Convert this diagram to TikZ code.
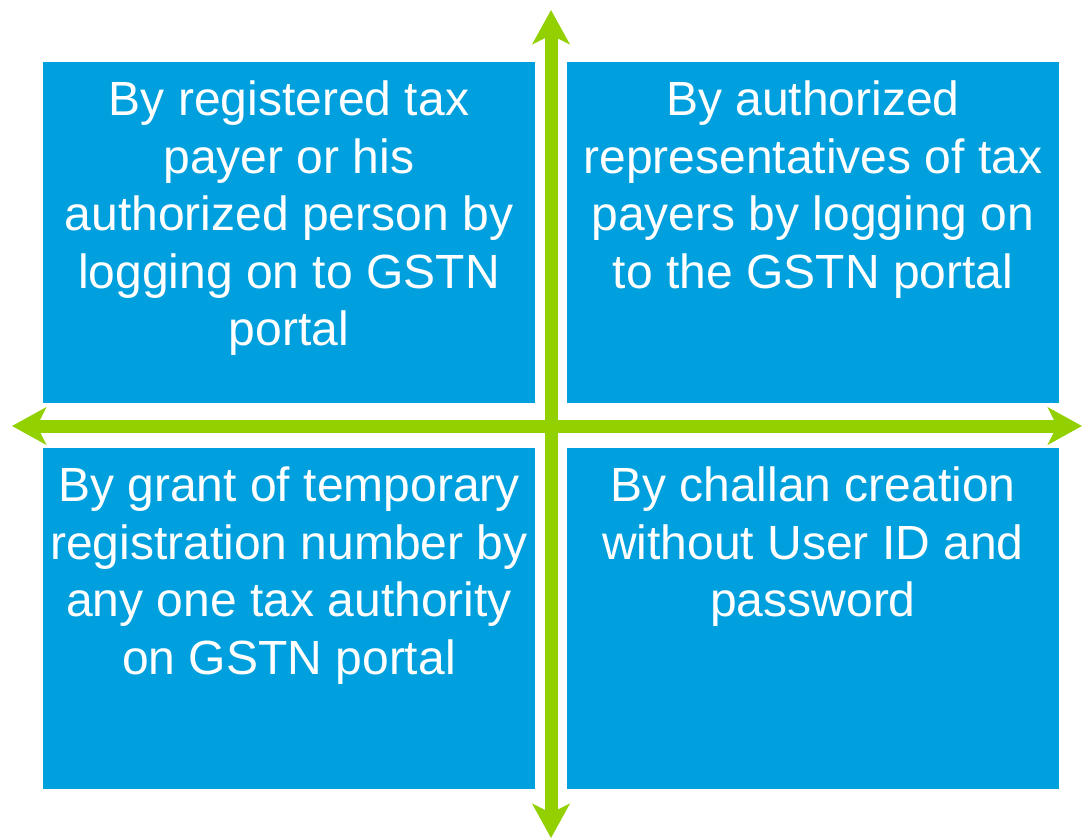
\documentclass[tikz,border=0pt]{standalone}
\usepackage{fontspec}
\setmainfont{Liberation Sans}
\usepackage{tikz}
\usetikzlibrary{arrows.meta, positioning}

\definecolor{quadblue}{RGB}{0,160,222}
\definecolor{axisgreen}{RGB}{146,208,0}

\begin{document}
\begin{tikzpicture}[
    x=1pt, y=-1pt,
    % --- STYLES ---
    quadrant/.style={rectangle, fill=quadblue, minimum width=492pt, minimum height=341pt, inner sep=0pt, outer sep=0pt},
    quadtext/.style={anchor=north, align=center, text=white, inner sep=0pt, font=\fontsize{48}{57.5}\selectfont,
        execute at begin node=\rule{0pt}{38pt}},
    axis/.style={{Stealth[length=34pt, width=37pt, inset=9pt]}-{Stealth[length=34pt, width=37pt, inset=9pt]}, line width=13pt, draw=axisgreen}
]
    \useasboundingbox (0,0) rectangle (1084,839);

    % --- NODES ---
    \node[quadrant] (tl) at (289,232.5) {};
    \node[quadrant, right=32pt of tl] (tr) {};
    \node[quadrant, below=45pt of tl] (bl) {};
    \node[quadrant, below=45pt of tr] (br) {};

    % text hangs from the top edge of each quadrant
    \node[quadtext] (tltext) at ([yshift=-19pt]tl.north) {By registered tax\\payer or his\\authorized person by\\logging on to GSTN\\portal};
    \node[quadtext] (trtext) at ([yshift=-19pt]tr.north) {By authorized\\representatives of tax\\payers by logging on\\to the GSTN portal};
    \node[quadtext] (bltext) at ([yshift=-19pt]bl.north) {By grant of temporary\\registration number by\\any one tax authority\\on GSTN portal};
    \node[quadtext] (brtext) at ([yshift=-19pt]br.north) {By challan creation\\without User ID and\\password};

    % --- AXES ---
    \coordinate (up) at (551,10);
    \coordinate (down) at (551,838);
    \coordinate (left) at (12,426);
    \coordinate (right) at (1082,426);

    \draw[axis] (left) -- (right);
    \draw[axis] (up) -- (down);

\end{tikzpicture}
\end{document}
